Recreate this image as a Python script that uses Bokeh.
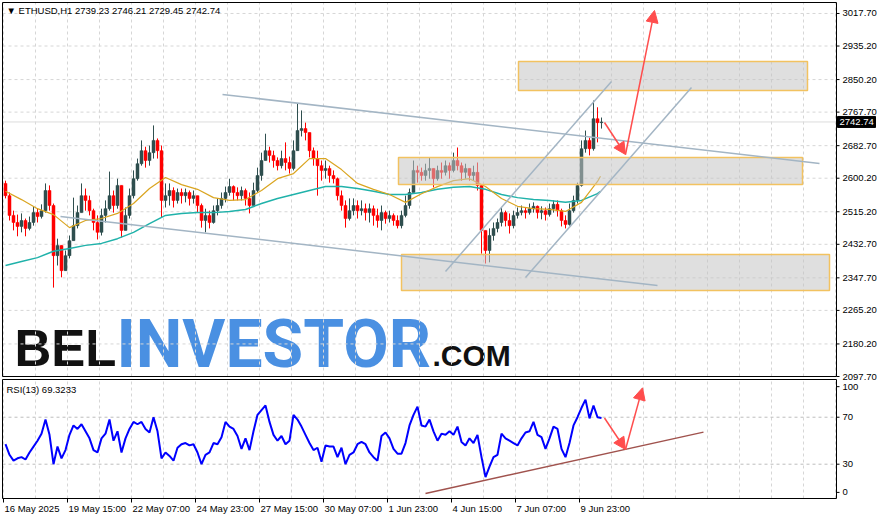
from bokeh.plotting import figure
from bokeh.models import (ColumnDataSource, Label, Arrow, NormalHead, Range1d)
from bokeh.core.properties import value
from bokeh.embed import file_html
from bokeh.resources import INLINE

# ---------------- data ----------------
bar_step_hours = 4
first_open = 2587
closes = [2556, 2506, 2488, 2478, 2493, 2473, 2488, 2513, 2503, 2518,
          2569, 2531, 2404, 2430, 2366, 2404, 2442, 2480, 2513, 2556,
          2544, 2518, 2488, 2463, 2506, 2523, 2556, 2531, 2582, 2468,
          2506, 2556, 2599, 2637, 2670, 2645, 2665, 2696, 2670, 2544,
          2556, 2569, 2544, 2564, 2556, 2564, 2549, 2556, 2531, 2493,
          2506, 2488, 2518, 2531, 2549, 2564, 2579, 2564, 2556, 2569,
          2549, 2531, 2569, 2607, 2645, 2670, 2658, 2645, 2632, 2650,
          2640, 2625, 2670, 2721, 2726, 2716, 2670, 2650, 2632, 2620,
          2625, 2607, 2599, 2556, 2531, 2498, 2518, 2531, 2518, 2523,
          2513, 2523, 2506, 2493, 2513, 2498, 2506, 2493, 2480, 2506,
          2531, 2564, 2620, 2615, 2607, 2620, 2625, 2599, 2620, 2615,
          2632, 2620, 2645, 2632, 2615, 2625, 2607, 2615, 2582, 2468,
          2417, 2455, 2473, 2488, 2513, 2493, 2480, 2506, 2513, 2518,
          2513, 2523, 2529, 2513, 2518, 2508, 2523, 2534, 2518, 2493,
          2483, 2518, 2544, 2582, 2675, 2696, 2675, 2751, 2741, 2742.74]
highs = [2594, 2564, 2518, 2508, 2511, 2498, 2503, 2529, 2523, 2534,
         2587, 2582, 2536, 2447, 2430, 2417, 2455, 2551, 2531, 2587,
         2574, 2556, 2523, 2506, 2523, 2544, 2617, 2569, 2599, 2582,
         2526, 2574, 2620, 2650, 2696, 2680, 2683, 2734, 2701, 2683,
         2587, 2587, 2577, 2574, 2574, 2574, 2569, 2569, 2556, 2536,
         2523, 2518, 2531, 2549, 2564, 2579, 2599, 2582, 2577, 2579,
         2574, 2564, 2589, 2627, 2665, 2713, 2680, 2670, 2653, 2670,
         2691, 2655, 2696, 2790, 2772, 2741, 2713, 2678, 2670, 2645,
         2645, 2632, 2620, 2602, 2569, 2544, 2549, 2549, 2544, 2544,
         2536, 2536, 2531, 2523, 2531, 2518, 2518, 2511, 2506, 2518,
         2556, 2574, 2645, 2632, 2627, 2637, 2653, 2625, 2632, 2640,
         2645, 2640, 2665, 2678, 2640, 2637, 2625, 2632, 2640, 2582,
         2455, 2473, 2488, 2498, 2526, 2518, 2511, 2518, 2526, 2531,
         2526, 2536, 2539, 2531, 2529, 2526, 2536, 2544, 2544, 2523,
         2506, 2536, 2556, 2589, 2696, 2721, 2703, 2797, 2780, 2754]
lows = [2549, 2493, 2468, 2453, 2463, 2453, 2468, 2480, 2488, 2498,
        2513, 2518, 2323, 2379, 2349, 2366, 2397, 2442, 2473, 2518,
        2518, 2506, 2468, 2445, 2455, 2488, 2518, 2513, 2523, 2450,
        2468, 2498, 2549, 2594, 2632, 2627, 2632, 2650, 2650, 2501,
        2526, 2531, 2526, 2536, 2536, 2539, 2531, 2536, 2513, 2475,
        2463, 2473, 2485, 2506, 2523, 2539, 2556, 2544, 2544, 2544,
        2531, 2511, 2544, 2564, 2594, 2645, 2640, 2627, 2620, 2625,
        2620, 2612, 2620, 2696, 2706, 2696, 2653, 2632, 2556, 2594,
        2599, 2589, 2587, 2544, 2518, 2475, 2493, 2506, 2498, 2506,
        2493, 2488, 2480, 2475, 2468, 2485, 2488, 2480, 2473, 2473,
        2501, 2523, 2569, 2589, 2594, 2594, 2599, 2577, 2594, 2599,
        2607, 2599, 2615, 2620, 2594, 2599, 2594, 2594, 2569, 2409,
        2384, 2387, 2442, 2463, 2478, 2478, 2460, 2473, 2498, 2506,
        2498, 2508, 2513, 2498, 2496, 2493, 2503, 2513, 2503, 2478,
        2473, 2480, 2513, 2536, 2579, 2665, 2658, 2670, 2691, 2726]
rsi_values = [47, 38, 33, 35, 36, 34, 40, 45, 50, 56,
              68, 55, 30, 45, 35, 42, 55, 63, 60, 64,
              58, 52, 42, 40, 52, 56, 68, 50, 58, 40,
              52, 60, 66, 64, 66, 60, 57, 70, 58, 35,
              40, 37, 33, 44, 47, 48, 46, 47, 40, 30,
              38, 40, 48, 47, 53, 66, 62, 60, 54, 43,
              52, 42, 58, 72, 76, 80, 66, 55, 50, 54,
              47, 50, 72, 68, 62, 55, 48, 42, 44, 32,
              46, 45, 45, 36, 44, 30, 38, 40, 47, 49,
              47, 40, 36, 33, 54, 57, 52, 43, 39, 39,
              48, 63, 72, 79, 63, 62, 68, 58, 50, 56,
              55, 58, 55, 62, 49, 46, 52, 48, 55, 36,
              19, 28, 36, 38, 56, 52, 50, 48, 46, 52,
              57, 58, 66, 55, 53, 43, 52, 62, 60, 43,
              36, 48, 63, 70, 78, 85, 69, 80, 70, 69.3233]
ma_step_hours = 16
ma_fast = [2567, 2546, 2523, 2508, 2475, 2493, 2498, 2511, 2536, 2574,
           2602, 2584, 2572, 2551, 2544, 2546, 2569, 2599, 2612, 2650,
           2650, 2622, 2587, 2572, 2559, 2539, 2561, 2579, 2594, 2599,
           2579, 2549, 2529, 2523, 2521, 2516, 2539, 2592, 2605]
ma_slow = [2379, 2389, 2399, 2415, 2422, 2430, 2435, 2447, 2463, 2485,
           2506, 2511, 2513, 2513, 2516, 2521, 2536, 2549, 2559, 2569,
           2579, 2579, 2574, 2567, 2559, 2559, 2564, 2572, 2577, 2579,
           2572, 2559, 2551, 2546, 2544, 2539, 2544, 2561, 2567]

price_ticks = [3017.70, 2935.20, 2850.20, 2767.70, 2682.70, 2600.20,
               2515.20, 2432.70, 2347.70, 2265.20, 2180.20, 2097.70]
time_tick_hours = [0, 64, 128, 192, 256, 320, 384, 448, 512, 576]
time_tick_labels = ["16 May 2025", "19 May 15:00", "22 May 07:00", "24 May 23:00",
                    "27 May 15:00", "30 May 07:00", "1 Jun 23:00", "4 Jun 15:00",
                    "7 Jun 07:00", "9 Jun 23:00"]
rsi_ticks = [6, 30, 70, 96]
rsi_tick_labels = ["0", "30", "70", "100"]
rsi_levels = [30, 70]
last_price = 2742.74
header_text = "\u25BC ETHUSD,H1  2739.23 2746.21 2729.45 2742.74"
rsi_text = "RSI(13) 69.3233"

# zones (hours / prices)
zone_left = [515, 395, 398]
zone_right = [804, 799, 826]
zone_top = [2896.0, 2652.7, 2406.9]
zone_bottom = [2822.5, 2584.3, 2315.6]

# trend lines
trend_x0 = [219, 57, 442, 522]
trend_y0 = [2812.4, 2503.2, 2363.8, 2348.6]
trend_x1 = [816, 654, 608, 688]
trend_y1 = [2637.5, 2328.3, 2845.3, 2830.1]
rsi_trend_x = [422, 700]
rsi_trend_y = [5.1, 57.3]

# projected path arrows
path_x = [601, 622, 651]
path_price = [2741.4, 2660.3, 3025.3]
rsi_path_x = [601, 622, 639]
rsi_path_y = [69.3, 42.5, 95.0]

# ---------------- panel geometry (pixels) ----------------
W, H = 880, 517
X0_HOUR = -3                       # hour shown at the canvas' left edge (1 px per hour)
PANEL_L, PANEL_R = -1, 833          # panel frame, in hours
MAIN_TOP_PX, MAIN_BOT_PX = 2, 376
PRICE_TOP, PRICE_BOT = 3045.5, 2097.7
RSI_TOP_PX, RSI_BOT_PX = 379, 498
RSI_TOP, RSI_BOT = 102.1, 0.8

ppp = (PRICE_TOP - PRICE_BOT) / (MAIN_BOT_PX - MAIN_TOP_PX)   # price per pixel
rpp = (RSI_TOP - RSI_BOT) / (RSI_BOT_PX - RSI_TOP_PX)         # rsi per pixel
price_range = Range1d(PRICE_BOT - (H - MAIN_BOT_PX) * ppp, PRICE_TOP + MAIN_TOP_PX * ppp)
rsi_range = Range1d(RSI_BOT - (H - RSI_BOT_PX) * rpp, RSI_TOP + RSI_TOP_PX * rpp)

# ---------------- derived columns ----------------
n = len(closes)
hours = [2 + bar_step_hours * i for i in range(n)]
opens = [first_open] + closes[:-1]
hi = [max(h, o, c) for h, o, c in zip(highs, opens, closes)]
lo = [min(l, o, c) for l, o, c in zip(lows, opens, closes)]
up = [c >= o for o, c in zip(opens, closes)]

def pick(seq, flag):
    return [v for v, f in zip(seq, up) if f == flag]

src_up = ColumnDataSource(dict(x=pick(hours, True), o=pick(opens, True), c=pick(closes, True),
                               h=pick(hi, True), l=pick(lo, True)))
src_dn = ColumnDataSource(dict(x=pick(hours, False), o=pick(opens, False), c=pick(closes, False),
                               h=pick(hi, False), l=pick(lo, False)))
ma_hours = [2 + ma_step_hours * i for i in range(len(ma_fast) - 1)] + [hours[-1] - 1]
vgrid = list(range(0, PANEL_R, 32))

FONT = "Liberation Sans"
FS = "9.5px"
GRID = "#d6d6d6"
UP_COL = "#2f4f4f"
DN_COL = "#ff0000"
ARROW = "#ff4d4d"

p = figure(width=W, height=H, x_range=Range1d(X0_HOUR, X0_HOUR + W), y_range=price_range,
           extra_y_ranges={"rsi": rsi_range}, x_axis_type=None, y_axis_type=None,
           output_backend="svg", toolbar_location=None, min_border=0,
           background_fill_color="white", border_fill_color="white", outline_line_color=None)

# ---- grids ----
p.segment(x0=vgrid, x1=vgrid, y0=PRICE_BOT, y1=PRICE_TOP, line_color=GRID, line_dash="3 3")
p.segment(x0=vgrid, x1=vgrid, y0=RSI_BOT, y1=RSI_TOP, line_color=GRID, line_dash="3 3",
          y_range_name="rsi")
p.segment(x0=PANEL_L, x1=PANEL_R, y0=price_ticks, y1=price_ticks, line_color=GRID,
          line_dash="3 3")
p.segment(x0=PANEL_L, x1=PANEL_R, y0=rsi_levels, y1=rsi_levels, line_color="#bdbdbd",
          line_dash="3 3", y_range_name="rsi")
p.segment(x0=PANEL_L, x1=PANEL_R, y0=last_price, y1=last_price, line_color="#dcdcdc")

# ---- watermark logo ----
p.add_layout(Label(x=11, y=2242, text="BEL", text_font="Liberation Sans", text_font_style="bold",
                   text_font_size="51px", text_color="#111111", text_baseline="top",
                   level="underlay"))
p.add_layout(Label(x=113, y=2277, text="INVESTOR", text_font="Roboto",
                   text_font_style="bold", text_font_size="66px", text_color="#4a90e2",
                   text_baseline="top", level="underlay"))
p.add_layout(Label(x=429, y=2192, text=".COM", text_font="Liberation Sans", text_font_style="bold",
                   text_font_size="30px", text_color="#111111", text_baseline="top",
                   level="underlay"))

# ---- candles ----
for src, col in ((src_up, UP_COL), (src_dn, DN_COL)):
    p.segment(x0="x", y0="l", x1="x", y1="h", source=src, line_color=col, line_width=1)
    p.vbar(x="x", width=3.0, top="o", bottom="c", source=src, fill_color=col, line_color=col,
           line_width=0.5)

# ---- moving averages ----
p.line(ma_hours, ma_slow, line_color="#20b2aa", line_width=1.5)
p.line(ma_hours, ma_fast, line_color="#daa520", line_width=1.2)

# ---- zones, trend lines, arrows ----
p.quad(left=zone_left, right=zone_right, top=zone_top, bottom=zone_bottom,
       fill_color="#c4c4c4", fill_alpha=0.55, line_color="#f2c260", line_width=1.5)
p.segment(x0=trend_x0, y0=trend_y0, x1=trend_x1, y1=trend_y1,
          line_color="#a3b5c4", line_width=1.5)
for i in range(len(path_x) - 1):
    p.add_layout(Arrow(x_start=path_x[i], y_start=path_price[i], x_end=path_x[i + 1],
                       y_end=path_price[i + 1], line_color=ARROW, line_width=1.5,
                       end=NormalHead(size=12, fill_color=ARROW, line_color=ARROW)))

# ---- RSI ----
p.line(rsi_trend_x, rsi_trend_y, line_color="#a0524d", line_width=1.5, y_range_name="rsi")
p.line(hours, rsi_values, line_color="#0000ff", line_width=2, y_range_name="rsi")
for i in range(len(rsi_path_x) - 1):
    p.add_layout(Arrow(x_start=rsi_path_x[i], y_start=rsi_path_y[i], x_end=rsi_path_x[i + 1],
                       y_end=rsi_path_y[i + 1], line_color=ARROW, line_width=1.5,
                       y_range_name="rsi",
                       end=NormalHead(size=12, fill_color=ARROW, line_color=ARROW)))

# ---- panel frames ----
p.quad(left=PANEL_L, right=PANEL_R, top=PRICE_TOP, bottom=PRICE_BOT, fill_color=None,
       line_color="black", line_width=1)
p.quad(left=PANEL_L, right=PANEL_R, top=RSI_TOP, bottom=RSI_BOT, fill_color=None,
       line_color="black", line_width=1, y_range_name="rsi")

# ---- price axis (right) ----
p.segment(x0=PANEL_R, x1=PANEL_R + 3, y0=price_ticks, y1=price_ticks, line_color="black")
p.text(x=PANEL_R + 6, y=price_ticks, text=["%.2f" % t for t in price_ticks],
       text_font=value(FONT), text_font_size=FS, text_color="black",
       text_align="left", text_baseline="middle")
# current price marker
p.quad(left=PANEL_R + 1, right=PANEL_R + 39, top=last_price + 5.5 * ppp,
       bottom=last_price - 5.5 * ppp, fill_color="black", line_color="black")
p.text(x=PANEL_R + 3, y=last_price, text=["%.2f" % last_price], text_font=value(FONT),
       text_font_size=FS, text_color="white", text_align="left", text_baseline="middle")

# ---- RSI axis (right) ----
p.segment(x0=PANEL_R, x1=PANEL_R + 3, y0=rsi_ticks, y1=rsi_ticks, line_color="black",
          y_range_name="rsi")
p.text(x=PANEL_R + 6, y=rsi_ticks, text=rsi_tick_labels, text_font=value(FONT),
       text_font_size=FS, text_color="black", text_align="left", text_baseline="middle",
       y_range_name="rsi")

# ---- time axis (below the RSI panel) ----
tick_len = 4 * rpp
p.segment(x0=time_tick_hours, x1=time_tick_hours, y0=RSI_BOT, y1=RSI_BOT - tick_len,
          line_color="black", y_range_name="rsi")
p.text(x=time_tick_hours, y=RSI_BOT - tick_len, text=time_tick_labels, x_offset=1,
       text_font=value(FONT), text_font_size=FS, text_color="black",
       text_align="left", text_baseline="top", y_range_name="rsi")

# ---- panel captions ----
p.add_layout(Label(x=3, y=3025.3, text=header_text, text_font=FONT, text_font_size=FS,
                   text_baseline="middle", text_color="black"))
p.add_layout(Label(x=3, y=93.6, text=rsi_text, text_font=FONT, text_font_size=FS,
                   text_baseline="middle", text_color="black", y_range_name="rsi"))

open("out.html", "w").write(file_html(p, INLINE))
